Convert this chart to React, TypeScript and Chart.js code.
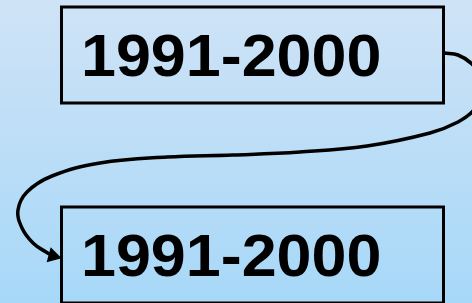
import React, { useEffect, useRef } from "react";
import { Chart, registerables } from "chart.js";

Chart.register(...registerables);

// Diagram content
const boxLabels: string[] = ["1991-2000", "1991-2000"];
const boxTop: number[] = [7, 207];
const boxBottom: number[] = [103, 303];
const boxLeft: number[] = [61.5, 61.5];
const boxRight: number[] = [443.5, 443.5];

// Connector path (scale units: x 0..472, y 0..303 top-down)
const arrowX: number[] = [444, 458, 472, 481, 481, 474, 458, 430, 367, 300, 233, 167, 100, 52, 27, 18, 22, 33, 46, 53];
const arrowY: number[] = [53, 55, 64, 78, 95, 110, 122, 133, 146, 152, 155, 157, 163, 176, 192, 210, 228, 243, 252, 256];

const backgroundPlugin = {
  id: "bgGradient",
  beforeDraw(chart: any) {
    const { ctx, width, height } = chart;
    const g = ctx.createLinearGradient(0, 0, 0, height);
    g.addColorStop(0, "#cfe3f6");
    g.addColorStop(1, "#a7d8f8");
    ctx.save();
    ctx.fillStyle = g;
    ctx.fillRect(0, 0, width, height);
    ctx.restore();
  },
};

const boxesPlugin = {
  id: "boxes",
  afterDatasetsDraw(chart: any) {
    const { ctx } = chart;
    const xs = chart.scales.x;
    const ys = chart.scales.y;
    boxLabels.forEach((label, i) => {
      const x0 = xs.getPixelForValue(boxLeft[i]);
      const x1 = xs.getPixelForValue(boxRight[i]);
      const y0 = ys.getPixelForValue(boxTop[i]);
      const y1 = ys.getPixelForValue(boxBottom[i]);
      ctx.save();
      ctx.lineWidth = 3;
      ctx.strokeStyle = "#000";
      ctx.strokeRect(x0, y0, x1 - x0, y1 - y0);
      ctx.fillStyle = "#000";
      ctx.font = "bold 60px 'Liberation Sans', Arial, sans-serif";
      ctx.textBaseline = "alphabetic";
      ctx.textAlign = "left";
      ctx.translate(x0 + 19.5, y0 + 69);
      ctx.scale(1.047, 1);
      ctx.fillText(label, 0, 0);
      ctx.restore();
    });
  },
};

export default function App() {
  const ref = useRef<HTMLCanvasElement | null>(null);
  useEffect(() => {
    document.body.style.margin = "0";
    if (!ref.current) return;
    const n = arrowX.length;
    const data = arrowX.map((x, i) => ({ x, y: arrowY[i] }));
    const chart = new Chart(ref.current, {
      type: "scatter",
      data: {
        datasets: [
          {
            data,
            showLine: true,
            borderColor: "#000",
            backgroundColor: "#000",
            borderWidth: 3.5,
            tension: 0.4,
            capBezierPoints: false,
            clip: false,
            pointRadius: data.map((_, i) => (i === n - 1 ? 9 : 0)),
            pointStyle: "triangle",
            rotation: 105,
            pointBorderWidth: 0,
          } as any,
        ],
      },
      options: {
        animation: false,
        responsive: true,
        maintainAspectRatio: false,
        layout: { padding: 0, autoPadding: false },
        plugins: { legend: { display: false }, tooltip: { enabled: false } },
        events: [],
        scales: {
          x: { type: "linear", min: 0, max: 472, display: false },
          y: { type: "linear", min: 0, max: 303, reverse: true, display: false },
        },
      },
      plugins: [backgroundPlugin, boxesPlugin],
    });
    return () => chart.destroy();
  }, []);
  return (
    <div style={{ position: "fixed", left: 0, top: 0, width: "472px", height: "303px" }}>
      <canvas ref={ref} />
    </div>
  );
}
